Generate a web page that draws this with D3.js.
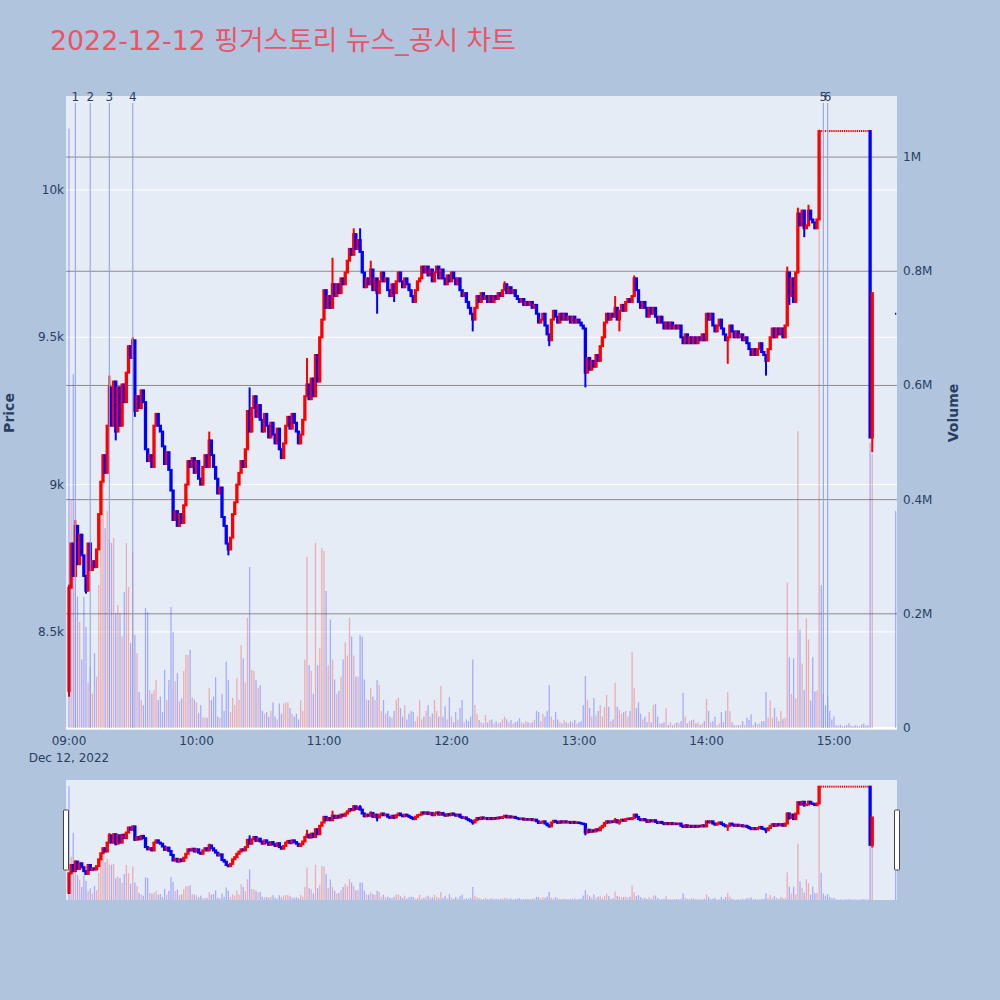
<!DOCTYPE html>
<html><head><meta charset="utf-8">
<script src="https://cdn.jsdelivr.net/npm/d3@7"></script>
<style>body{margin:0;background:#B0C4DE;} text{font-family:"DejaVu Sans",Verdana,"Noto Sans CJK KR",sans-serif;}</style>
</head><body>
<svg id="chart" width="1000" height="1000"></svg>
<script>
// ---------------- DATA ----------------
const chartTitle = "2022-12-12 핑거스토리 뉴스_공시 차트";
const sessionStart = "2022-12-12 09:00";
const firstOpen = 8300;
// one close per minute from 09:00 (index = minutes after 09:00)
const closes = [
 8650,8800,8690,8860,8730,8830,8760,8690,8640,8800,
 8710,8740,8720,8780,8900,9010,9100,9040,9200,9330,
 9200,9350,9180,9330,9200,9340,9280,9380,9470,9430,
 9490,9250,9300,9260,9320,9280,9120,9080,9100,9060,
 9200,9240,9200,9180,9130,9070,9110,9050,8980,8880,
 8910,8860,8900,8870,8930,9000,9080,9060,9090,9040,
 9080,9020,9000,9060,9100,9060,9150,9100,9060,9020,
 8970,8990,8890,8860,8800,8780,8820,8900,8940,9000,
 9040,9080,9060,9120,9250,9180,9260,9300,9230,9270,
 9220,9180,9240,9200,9160,9210,9170,9140,9190,9120,
 9090,9140,9200,9230,9190,9240,9210,9180,9140,9170,
 9220,9300,9340,9290,9360,9300,9440,9350,9500,9560,
 9660,9600,9640,9600,9680,9640,9680,9650,9700,9680,
 9720,9760,9800,9780,9850,9800,9830,9790,9720,9670,
 9700,9680,9730,9660,9700,9650,9690,9720,9690,9700,
 9660,9640,9680,9650,9690,9720,9690,9670,9700,9680,
 9660,9640,9620,9660,9690,9700,9740,9720,9740,9710,
 9730,9690,9720,9740,9700,9730,9700,9680,9710,9690,
 9720,9700,9680,9700,9660,9640,9650,9620,9600,9580,
 9560,9600,9640,9620,9650,9630,9640,9620,9640,9620,
 9640,9630,9650,9640,9660,9680,9650,9670,9650,9660,
 9640,9630,9620,9630,9610,9620,9610,9620,9600,9610,
 9580,9550,9560,9580,9540,9510,9490,9560,9590,9570,
 9550,9580,9560,9580,9560,9570,9550,9570,9550,9560,
 9550,9540,9530,9380,9430,9390,9420,9400,9440,9420,
 9470,9500,9550,9580,9560,9580,9570,9600,9560,9590,
 9610,9590,9620,9630,9620,9640,9700,9660,9620,9600,
 9620,9600,9570,9600,9580,9600,9570,9550,9570,9550,
 9530,9550,9530,9550,9530,9540,9530,9540,9500,9480,
 9510,9480,9500,9480,9500,9480,9500,9490,9510,9490,
 9580,9560,9580,9540,9520,9540,9560,9530,9510,9490,
 9500,9540,9520,9500,9520,9500,9510,9490,9500,9480,
 9460,9440,9460,9440,9460,9480,9450,9440,9420,9460,
 9500,9530,9500,9530,9510,9530,9500,9540,9720,9640,
 9700,9620,9720,9920,9880,9930,9870,9880,9930,9900,
 9890,9870,9900,10200,10200,10200,10200,10200,10200,10200,
 10200,10200,10200,10200,10200,10200,10200,10200,10200,10200,
 10200,10200,10200,10200,10200,10200,10200,9160,9650
];
// wick extremes beyond the body: [minute, price]
const wickHighs = [[0,8660],[3,8880],[19,9370],[30,9500],[66,9180],[85,9330],[112,9430],[124,9770],[134,9870],[137,9870],[142,9760],[205,9690],[257,9640],[266,9710],[338,9740],[343,9940],[348,9950]];
const wickLows = [[0,8280],[8,8630],[22,9150],[31,9230],[75,8760],[145,9580],[153,9620],[190,9520],[226,9470],[243,9330],[259,9520],[310,9410],[328,9370],[339,9610],[346,9840],[378,9110]];
// volume per minute (thousand shares), same index as closes
const volumesK = [
 1050,400,620,280,230,186,120,230,177,80,
 107,60,131,90,250,420,430,350,380,330,
 324,333,201,215,201,160,238,324,247,149,
 308,163,131,63,49,40,210,203,66,60,
 66,84,49,55,28,102,49,84,212,168,
 82,96,47,52,100,128,128,137,54,50,
 45,26,40,19,18,18,70,49,55,89,
 20,18,60,30,116,84,28,53,40,87,
 49,145,122,80,193,282,102,100,84,70,
 75,30,25,28,20,30,45,20,15,43,
 25,43,45,45,35,25,20,25,15,49,
 30,120,300,110,100,60,324,110,140,315,
 310,240,110,190,120,85,60,65,90,120,
 150,127,193,160,127,90,90,163,160,85,
 50,49,70,55,49,84,75,30,49,25,
 30,20,18,30,49,53,35,20,40,15,
 25,30,28,12,20,49,15,20,30,40,
 20,25,49,30,20,74,20,38,15,54,
 20,10,28,15,35,49,10,15,12,20,
 120,40,25,14,10,8,23,10,14,15,
 8,12,8,10,15,20,15,10,14,8,
 10,12,17,10,8,12,10,8,10,14,
 30,28,12,25,20,30,75,20,14,28,
 15,10,8,14,10,8,12,10,14,8,
 10,12,40,91,49,35,20,52,22,30,
 40,20,37,58,37,12,15,79,37,32,
 25,28,30,20,30,133,70,35,45,25,
 15,20,10,28,10,40,42,20,8,8,
 10,35,5,10,5,8,10,8,12,62,
 20,8,12,14,15,8,10,5,8,12,
 51,30,10,12,20,5,8,28,10,30,
 63,30,10,5,5,5,5,12,5,18,
 14,24,5,10,7,8,12,12,63,18,
 48,18,35,20,12,30,16,18,255,124,
 60,122,52,520,172,113,67,192,155,48,
 124,64,66,1050,250,60,40,55,30,15,
 20,5,4,6,3,4,5,8,4,3,
 5,4,3,6,8,4,5,500,480
];
// closing auction print
const closingMinute = 389, closingPrice = 9580, closingVolK = 380;
// news / disclosure markers
const newsTimes = ["09:03","09:10","09:19","09:30","14:55","14:57"];
const newsLabels = ["1","2","3","4","5","6"];
// axis ticks
const priceTicks = [8500,9000,9500,10000];
const priceTickLabels = ["8.5k","9k","9.5k","10k"];
const volTicks = [0,200000,400000,600000,800000,1000000];
const volTickLabels = ["0","0.2M","0.4M","0.6M","0.8M","1M"];
const timeTickLabels = ["09:00","10:00","11:00","12:00","13:00","14:00","15:00"];
const dateLabel = "Dec 12, 2022";

// ---------------- BUILD ----------------
const parse = d3.timeParse("%Y-%m-%d %H:%M");
const t0 = parse(sessionStart);
const addMin = m => new Date(t0.getTime() + m*60000);
const hi = new Map(wickHighs), lo = new Map(wickLows);
const candles = closes.map((c,i)=>{
  const o = i===0 ? firstOpen : closes[i-1];
  return {t:addMin(i), o, c, h:Math.max(o,c,hi.get(i)||0), l:Math.min(o,c,lo.get(i)||1e9), v:volumesK[i]*1000};
});
candles.push({t:addMin(closingMinute), o:closingPrice, c:closingPrice, h:closingPrice, l:closingPrice, v:closingVolK*1000});
const UP="#ff0000", DN="#0000ff";
candles.forEach((d,i)=>{
  const prev = i>0 ? candles[i-1].c : null;
  d.col = d.c > d.o ? UP : d.c < d.o ? DN : (prev===null || d.c >= prev ? UP : DN);
  d.vcol = (prev!==null && d.c > prev) ? UP : DN;
});

const svg = d3.select("#chart");
const L=66, R=897, T=96, B=728;
const SL=66, SR=897, ST=780, SB=900;
const x = d3.scaleTime().domain([addMin(-1.41), addMin(389.65)]).range([L,R]);
const yP = d3.scaleLinear().domain([8174,10319]).range([B,T]);
const yV = d3.scaleLinear().domain([0,1107000]).range([B,T]);
const yPs = d3.scaleLinear().domain([8174,10319]).range([SB,ST]);
const yVs = d3.scaleLinear().domain([0,1107000]).range([SB,ST]);

svg.append("rect").attr("width",1000).attr("height",1000).attr("fill","#B0C4DE");
// title
const title = svg.append("text").attr("x",50).attr("y",50).attr("fill","#EA5468").attr("font-size",25.5).text(chartTitle);
const tw = title.node().getComputedTextLength();
if (tw > 0) title.attr("font-size", 25.5 * 466 / tw);

const defs = svg.append("defs");
defs.append("clipPath").attr("id","cm").append("rect").attr("x",L).attr("y",T).attr("width",R-L).attr("height",B-T);
defs.append("clipPath").attr("id","cs").append("rect").attr("x",SL).attr("y",ST).attr("width",SR-SL).attr("height",SB-ST);

// main plot bg
svg.append("rect").attr("x",L).attr("y",T).attr("width",R-L).attr("height",B-T+2).attr("fill","#E5ECF6");
// price grid (white)
svg.append("g").selectAll("line").data(priceTicks).join("line")
  .attr("x1",L).attr("x2",R).attr("y1",d=>yP(d)).attr("y2",d=>yP(d)).attr("stroke","#fff").attr("stroke-width",1);
// volume grid (gray)
svg.append("g").selectAll("line").data(volTicks.slice(1)).join("line")
  .attr("x1",L).attr("x2",R).attr("y1",d=>yV(d)).attr("y2",d=>yV(d)).attr("stroke","#8c8c8c").attr("stroke-width",1);
svg.append("line").attr("x1",L).attr("x2",R).attr("y1",yV(0)).attr("y2",yV(0)).attr("stroke","#fff").attr("stroke-width",2);

function drawSeries(g, yp, yv){
  const cg = g.append("g");
  candles.forEach(d=>{
    const cx = x(d.t), c = d.col;
    if (d.o === d.c && d.h === d.l) {
      cg.append("rect").attr("x",cx-0.65).attr("y",yp(d.c)-1).attr("width",1.3).attr("height",2).attr("fill",c);
      return;
    }
    const top = yp(Math.max(d.o,d.c)), bot = yp(Math.min(d.o,d.c));
    cg.append("path").attr("d",`M${cx},${yp(d.h)}V${top}M${cx},${bot}V${yp(d.l)}`).attr("stroke",c).attr("stroke-width",2).attr("fill","none");
    cg.append("rect").attr("x",cx-0.65).attr("y",top).attr("width",1.3).attr("height",Math.max(0,bot-top))
      .attr("fill",c).attr("stroke",c).attr("stroke-width",2);
  });
  g.append("g").selectAll("rect").data(candles).join("rect")
    .attr("x",d=>x(d.t)-0.65).attr("width",1.3)
    .attr("y",d=>yv(d.v)).attr("height",d=>yv(0)-yv(d.v))
    .attr("fill",d=>d.vcol).attr("fill-opacity",0.27);
}
drawSeries(svg.append("g").attr("clip-path","url(#cm)"), yP, yV);

// news markers
const ng = svg.append("g");
newsTimes.forEach((tm,i)=>{
  const nx = x(parse("2022-12-12 "+tm));
  ng.append("line").attr("x1",nx).attr("x2",nx).attr("y1",103).attr("y2",B).attr("stroke","#8ea0e2").attr("stroke-width",1.2).attr("opacity",0.85);
  ng.append("text").attr("x",nx).attr("y",101).attr("text-anchor","middle").attr("font-size",12).attr("fill","#2a3f5f").text(newsLabels[i]);
});

// axes
const tickCol = "#2a3f5f";
svg.append("g").selectAll("text").data(priceTicks).join("text")
  .attr("x",64).attr("y",d=>yP(d)+4).attr("text-anchor","end").attr("font-size",12).attr("fill",tickCol)
  .text((d,i)=>priceTickLabels[i]);
svg.append("g").selectAll("text").data(volTicks).join("text")
  .attr("x",903).attr("y",d=>yV(d)+4).attr("text-anchor","start").attr("font-size",12).attr("fill",tickCol)
  .text((d,i)=>volTickLabels[i]);
svg.append("g").selectAll("text").data(timeTickLabels).join("text")
  .attr("x",d=>x(parse("2022-12-12 "+d))).attr("y",745).attr("text-anchor","middle").attr("font-size",12).attr("fill",tickCol)
  .text(d=>d);
svg.append("text").attr("x",x(t0)).attr("y",762).attr("text-anchor","middle").attr("font-size",12).attr("fill",tickCol).text(dateLabel);
svg.append("text").attr("transform","translate(14,413) rotate(-90)").attr("text-anchor","middle").attr("font-size",14).attr("font-weight","bold").attr("fill",tickCol).text("Price");
svg.append("text").attr("transform","translate(958,413) rotate(-90)").attr("text-anchor","middle").attr("font-size",14).attr("font-weight","bold").attr("fill",tickCol).text("Volume");

// range slider
svg.append("rect").attr("x",SL).attr("y",ST).attr("width",SR-SL).attr("height",SB-ST).attr("fill","#E5ECF6");
drawSeries(svg.append("g").attr("clip-path","url(#cs)"), yPs, yVs);
[SL, SR].forEach(hx=>{
  svg.append("rect").attr("x",hx-2.5).attr("y",810).attr("width",5).attr("height",60).attr("rx",1)
    .attr("fill","#fff").attr("stroke","#444").attr("stroke-width",1);
});
</script>
</body></html>
